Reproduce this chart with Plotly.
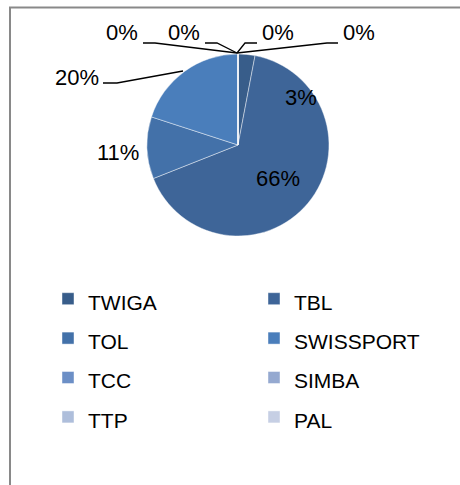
import plotly.graph_objects as go

# ---- data ----
categories = ["TWIGA", "TBL", "TOL", "SWISSPORT", "TCC", "SIMBA", "TTP", "PAL"]
values = [3, 66, 11, 20, 0, 0, 0, 0]
colors = ["#385D8A", "#3E6598", "#4371A9", "#4A7EBB",
          "#6C8FC6", "#95A9D0", "#AEBEDB", "#C6CFE4"]

W, H = 460, 485
def px(x):
    return x / W
def py(y):
    return 1 - y / H

FONT = "Liberation Sans, Arial, sans-serif"

# pie geometry (pixels)
cx, cy, r = 238, 145, 91

fig = go.Figure()
fig.add_trace(go.Pie(
    labels=[f"<span style='font-size:21px'>{c}</span>" for c in categories],
    values=values,
    sort=False,
    direction="clockwise",
    rotation=0,
    marker=dict(colors=colors, line=dict(color="rgba(255,255,255,0.55)", width=0.8)),
    textinfo="none",
    textposition="none",
    hoverinfo="label+percent",
    domain=dict(x=[px(cx - r), px(cx + r)], y=[py(cy + r), py(cy - r)]),
    showlegend=True,
))

# data label positions (pixels) for each category
label_pos = [(301, 98), (278, 178), (118, 152), (77, 77),
             (122, 33), (184, 33), (278, 33), (359, 33)]
total = sum(values)
annotations = []
for v, (lx, ly) in zip(values, label_pos):
    annotations.append(dict(
        x=px(lx), y=py(ly), xref="paper", yref="paper",
        text=f"{round(100 * v / total)}%", showarrow=False,
        font=dict(family=FONT, size=22, color="#000000"),
        xanchor="center", yanchor="middle",
    ))

# leader lines (pixels)
leaders = [
    [(103, 83), (117, 83), (183, 71)],
    [(143, 43), (155, 43), (237, 53)],
    [(205, 43), (217, 43), (237, 53)],
    [(257, 43), (245, 43), (237, 53)],
    [(338, 43), (327, 43), (237, 53)],
]
shapes = []
for pts in leaders:
    path = "M " + " L ".join(f"{px(x):.5f},{py(y):.5f}" for x, y in pts)
    shapes.append(dict(type="path", xref="paper", yref="paper", path=path,
                       line=dict(color="#000000", width=1.3)))

# outer frame (top and left edges visible)
shapes.append(dict(type="line", xref="paper", yref="paper",
                   x0=px(9), x1=1, y0=py(7.5), y1=py(7.5),
                   line=dict(color="#898989", width=2)))
shapes.append(dict(type="line", xref="paper", yref="paper",
                   x0=px(10), x1=px(10), y0=py(7), y1=0,
                   line=dict(color="#898989", width=2)))

fig.update_layout(
    width=W, height=H,
    margin=dict(l=0, r=0, t=0, b=0),
    paper_bgcolor="#FFFFFF",
    plot_bgcolor="#FFFFFF",
    font=dict(family=FONT, color="#000000"),
    annotations=annotations,
    shapes=shapes,
    legend=dict(
        orientation="h",
        x=px(60), xanchor="left",
        y=py(274), yanchor="top",
        entrywidth=161, entrywidthmode="pixels",
        font=dict(family=FONT, size=28, color="#000000"),
        traceorder="normal",
        bgcolor="rgba(0,0,0,0)",
    ),
)

fig.write_html(
    "out.html",
    config={"displayModeBar": False},
    post_script="document.body.style.margin='0';document.body.style.overflow='hidden';",
)
